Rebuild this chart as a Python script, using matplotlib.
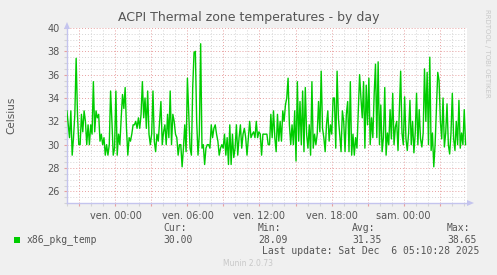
import matplotlib
matplotlib.use("Agg")
import matplotlib.pyplot as plt
from matplotlib.ticker import MultipleLocator, FuncFormatter
from matplotlib.patches import Rectangle, Polygon
import numpy as np

# ---------------- data ----------------
title = "ACPI Thermal zone temperatures - by day"
y_label = "Celsius"
series_name = "x86_pkg_temp"
x_tick_hours = [0, 6, 12, 18, 24]
x_tick_labels = ["ven. 00:00", "ven. 06:00", "ven. 12:00", "ven. 18:00", "sam. 00:00"]
stat_names = ["Cur:", "Min:", "Avg:", "Max:"]
stat_values = ["30.00", "28.09", "31.35", "38.65"]
last_update = "Last update: Sat Dec  6 05:10:28 2025"
footer = "Munin 2.0.73"
watermark = "RRDTOOL / TOBI OETIKER"

# hours relative to Friday 00:00
t_first, t_last = -4.05, 29.17
x_min, x_max = -4.04, 29.29
y_min, y_max = 25, 40

temps_thu_evening = [32.9, 31.7, 30.6, 32.9, 29.1, 30.6, 32.6, 37.4, 32.6, 30.0, 30.0, 32.6, 31.1,
                     32.9, 32.0, 30.0, 31.7, 30.0, 31.7, 30.9, 35.4, 31.1, 32.9, 32.3, 32.6, 30.3,
                     30.9, 30.0, 30.6, 29.1, 30.0, 29.1, 30.0, 34.6, 32.0, 29.1, 29.7, 34.6, 29.1,
                     30.9, 30.0, 32.3, 34.3, 33.1, 34.9, 31.4, 29.1, 30.6, 30.3, 30.9, 31.7, 31.7,
                     32.0, 31.4, 32.3, 31.4, 32.6, 35.4, 32.3, 34.0, 31.4, 34.6]
temps_fri_morning = [30.9, 30.0, 30.9, 34.6, 30.3, 29.4, 30.9, 30.3, 32.0, 33.7, 30.0, 31.1,
                     31.7, 30.0, 32.6, 30.6, 34.6, 30.0, 32.6, 32.0, 30.9, 30.6, 29.1, 30.0, 30.0,
                     28.1, 29.7, 31.7, 29.4, 35.7, 32.6, 29.7, 29.1, 34.9, 37.9, 38.0, 32.0, 29.1,
                     30.9, 38.65, 29.7, 30.0, 28.3, 29.7, 30.0, 30.0, 29.7, 31.7, 30.6, 31.4, 31.7,
                     30.9, 30.3, 29.1, 29.7, 30.0, 29.7, 30.9, 29.1, 30.6]
temps_fri_midday = [28.3, 31.7, 28.3, 30.9, 28.9, 29.7, 31.7, 29.1, 30.6, 31.7, 29.7, 30.9, 31.4,
                    30.6, 29.1, 30.6, 32.0, 30.6, 30.9, 31.1, 30.6, 32.0, 30.6, 31.1, 30.9, 29.1,
                    30.9, 30.9, 30.9, 30.9, 30.0, 30.0, 32.6, 30.6, 32.9, 30.6, 29.4, 32.6, 30.3,
                    32.0, 30.3, 32.9, 32.0, 33.4, 34.0, 35.7, 31.7, 30.0, 31.7, 30.0, 32.9, 28.6,
                    35.4, 30.3, 33.7, 30.0, 34.6, 29.4, 34.9, 30.9]
temps_fri_evening = [29.7, 31.7, 29.1, 35.4, 29.7, 30.9, 30.0, 30.9, 33.7, 31.1, 36.3, 31.4, 30.6,
                     29.4, 31.7, 32.9, 30.3, 31.7, 30.9, 34.0, 34.0, 29.7, 36.3, 32.3, 30.9, 29.4,
                     32.9, 32.0, 29.4, 32.6, 33.7, 29.4, 35.4, 29.1, 30.9, 29.1, 30.6, 29.7, 32.9,
                     36.0, 34.0, 32.3, 35.4, 29.7, 35.1, 31.7, 35.7, 30.0, 32.3, 30.6, 34.3, 36.9,
                     30.6, 37.1, 30.0, 33.4, 29.4, 30.6, 34.9, 29.1]
temps_sat_night = [31.0, 30.0, 33.0, 30.5, 34.4, 30.0, 31.5, 32.0, 29.5, 33.0, 36.3, 31.0, 30.0,
                   34.1, 30.5, 29.5, 31.0, 33.8, 30.0, 32.0, 29.3, 31.0, 34.4, 30.0, 33.0, 30.5,
                   29.8, 31.0, 36.5, 32.0, 36.2, 30.0, 37.5, 29.5, 31.0, 28.1, 30.0, 33.0, 36.2,
                   35.5, 32.0, 30.5, 34.0, 29.8, 31.0, 33.5, 30.0, 29.2, 31.0, 34.4, 30.5, 29.5,
                   32.0, 30.0, 33.8, 29.7, 31.0, 30.0, 33.0, 30.0]

temps = np.array(temps_thu_evening + temps_fri_morning + temps_fri_midday
                 + temps_fri_evening + temps_sat_night)
times = np.linspace(t_first, t_last, len(temps))

# ---------------- style ----------------
txt = "#555555"
axis_col = "#c4c4ee"
major_col = "#e8a0a0"
minor_col = "#d4d4d4"
W, H = 497, 275

fig = plt.figure(figsize=(W / 100, H / 100), dpi=100, facecolor="#F0F0F0")
ax = fig.add_axes([67 / W, 72 / H, 400 / W, 175 / H])
ax.set_facecolor("white")

ax.plot(times, temps, color="#00CC00", lw=1.0, zorder=3)
ax.set_xlim(x_min, x_max)
ax.set_ylim(y_min, y_max)

label_map = dict(zip(x_tick_hours, x_tick_labels))
ax.xaxis.set_major_locator(MultipleLocator(3))
ax.xaxis.set_minor_locator(MultipleLocator(1))
ax.xaxis.set_major_formatter(FuncFormatter(lambda v, p: label_map.get(int(round(v)), "")))
ax.yaxis.set_major_locator(MultipleLocator(2))
ax.yaxis.set_minor_locator(MultipleLocator(0.5))
ax.yaxis.set_major_formatter(FuncFormatter(lambda v, p: f"{v:g}"))

ax.grid(which="minor", color=minor_col, linestyle=(0, (1, 2)), lw=0.7)
ax.grid(which="major", color=major_col, linestyle=(0, (1, 2)), lw=0.7)
ax.set_axisbelow(True)

for s in ["top", "right"]:
    ax.spines[s].set_visible(False)
for s in ["left", "bottom"]:
    ax.spines[s].set_color(axis_col)
    ax.spines[s].set_linewidth(1.0)

ax.tick_params(which="major", length=2, color=major_col, labelcolor=txt, labelsize=7, width=0.8)
ax.tick_params(which="minor", length=2, color=minor_col, width=0.8)
ax.tick_params(axis="y", pad=3.5)
ax.tick_params(axis="x", pad=3.5)

# axis arrows
fig.patches.append(Polygon([[64 / W, 1 - 29 / H], [70 / W, 1 - 29 / H], [67 / W, 1 - 22 / H]],
                           closed=True, facecolor=axis_col, edgecolor="none",
                           transform=fig.transFigure))
fig.patches.append(Polygon([[467 / W, 1 - 200 / H], [467 / W, 1 - 206 / H], [474 / W, 1 - 203 / H]],
                           closed=True, facecolor=axis_col, edgecolor="none",
                           transform=fig.transFigure))

# texts
fig.text(0.5, 1 - 18 / H, title, ha="center", va="center", fontsize=9, color=txt)
fig.text(11 / W, 1 - 115 / H, y_label, rotation=90, ha="center", va="center", fontsize=7.5, color=txt)
fig.text(487.5 / W, 1 - 53 / H, watermark, rotation=270, ha="center", va="center",
         fontsize=5, color="#c8c8c8")

mono = "DejaVu Sans Mono"
fig.patches.append(Rectangle((14 / W, 1 - 243 / H), 6 / W, 6 / H, facecolor="#00CC00",
                             edgecolor="none", transform=fig.transFigure))
fig.text(27 / W, 1 - 240 / H, series_name, ha="left", va="center", fontsize=7, family=mono, color=txt)
stat_x = [163, 258, 352, 447]
for xx, n, v in zip(stat_x, stat_names, stat_values):
    fig.text(xx / W, 1 - 228 / H, n, ha="left", va="center", fontsize=7, family=mono, color=txt)
    fig.text(xx / W, 1 - 240 / H, v, ha="left", va="center", fontsize=7, family=mono, color=txt)
fig.text(261.5 / W, 1 - 251 / H, last_update, ha="left", va="center", fontsize=7, family=mono, color=txt)
fig.text(248 / W, 1 - 264 / H, footer, ha="center", va="center", fontsize=5.5, color="#c8c8c8")

fig.savefig("out.png", dpi=100, facecolor=fig.get_facecolor())
